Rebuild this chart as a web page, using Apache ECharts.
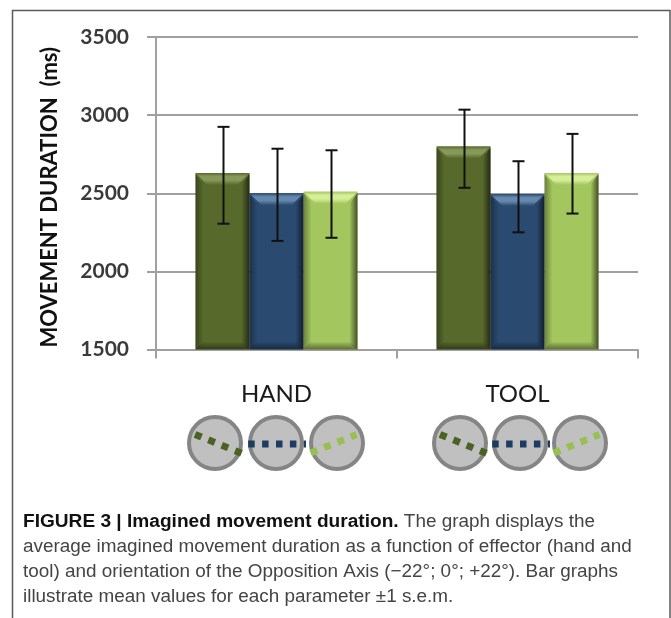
<!DOCTYPE html>
<html>
<head>
<meta charset="utf-8">
<style>
  html, body { margin: 0; padding: 0; background: #fff; }
  #chart { width: 671px; height: 618px; }
</style>
<script src="https://cdn.jsdelivr.net/npm/echarts@6/dist/echarts.min.js"></script>
</head>
<body>
<div id="chart"></div>
<script>
const categories = ['HAND', 'TOOL'];
const tickLabels = [1500, 2000, 2500, 3000, 3500];
const seriesNames = ['-22', '0', '+22'];
const means = [
    [2630, 2500, 2510],
    [2800, 2495, 2630]
];
const errHigh = [
    [2925, 2785, 2775],
    [3035, 2705, 2880]
];
const errLow = [
    [2305, 2195, 2215],
    [2535, 2250, 2370]
];
const barColors = ['#58692c', '#2b4a6f', '#a3c65f'];
const bevelLight = ['#86995a', '#6788ae', '#d6ee98'];
const captionLines = [
    'average imagined movement duration as a function of effector (hand and',
    'tool) and orientation of the Opposition Axis (\u221222\u00b0; 0\u00b0; +22\u00b0). Bar graphs',
    'illustrate mean values for each parameter \u00b11 s.e.m.'
];

const chart = echarts.init(document.getElementById('chart'));
const barWidth = 54;
const Grad = echarts.graphic.LinearGradient;

// bevelled bar shading, drawn on top of the plain bar series
const bevel = (s) => (params, api) => {
    const cat = api.value(0);
    const x0 = api.coord([cat, 1500])[0] + (s - 1) * barWidth - barWidth / 2;
    const yTop = api.coord([cat, api.value(1)])[1];
    const yBase = api.coord([cat, 1500])[1];
    const x1 = x0 + barWidth, d = 12, side = 8;
    const poly = (points, fill) => ({ type: 'polygon', shape: { points }, style: { fill } });
    const fade = (x, y, x2, y2, alpha) => new Grad(x, y, x2, y2, [
        { offset: 0, color: 'rgba(0,0,0,' + alpha + ')' },
        { offset: 1, color: 'rgba(0,0,0,0)' }
    ]);
    const topFill = new Grad(0, 0, 0, 1, [
        { offset: 0, color: barColors[s] },
        { offset: 0.3, color: bevelLight[s] },
        { offset: 0.6, color: bevelLight[s] },
        { offset: 1, color: barColors[s] }
    ]);
    return {
        type: 'group',
        children: [
            poly([[x0, yTop + 1], [x0 + side, yTop + d], [x0 + side, yBase - 6], [x0, yBase]], fade(0, 0, 1, 0, 0.35)),
            poly([[x1, yTop + 1], [x1 - side, yTop + d], [x1 - side, yBase - 6], [x1, yBase]], fade(1, 0, 0, 0, 0.6)),
            poly([[x0, yBase], [x0 + side, yBase - 8], [x1 - side, yBase - 8], [x1, yBase]], fade(0, 1, 0, 0, 0.45)),
            poly([[x0, yTop], [x1, yTop], [x1 - d, yTop + d], [x0 + d, yTop + d]], topFill)
        ]
    };
};

const errorBar = (s) => (params, api) => {
    const cat = api.value(0);
    const x = api.coord([cat, 1500])[0] + (s - 1) * barWidth + 1;
    const hi = api.coord([cat, api.value(1)])[1];
    const lo = api.coord([cat, api.value(2)])[1];
    const style = { stroke: '#111', lineWidth: 2 };
    const line = (x1, y1, x2, y2) => ({ type: 'line', shape: { x1, y1, x2, y2 }, style });
    return {
        type: 'group',
        children: [line(x, hi, x, lo), line(x - 6, hi, x + 6, hi), line(x - 6, lo, x + 6, lo)]
    };
};

const series = [];
seriesNames.forEach((name, s) => {
    series.push({
        name,
        type: 'bar',
        data: means.map(m => m[s]),
        barWidth,
        barGap: 0,
        itemStyle: { color: barColors[s] }
    });
});
seriesNames.forEach((name, s) => {
    series.push({
        type: 'custom',
        renderItem: bevel(s),
        encode: { x: 0, y: 1 },
        data: means.map((m, c) => [c, m[s]]),
        z: 3
    });
    series.push({
        type: 'custom',
        renderItem: errorBar(s),
        encode: { x: 0, y: [1, 2] },
        data: means.map((m, c) => [c, errHigh[c][s], errLow[c][s]]),
        z: 4
    });
});

// orientation icons under each group
const iconLines = [
    { dx: [-20, 26.5], dy: [-8.6, 10.3], dash: [7, 7.4], color: '#4a6224' },
    { dx: [-27.8, 30], dy: [1, 1], dash: [6.5, 7.4], color: '#1c3c63' },
    { dx: [-26.2, 19.5], dy: [10, -8.6], dash: [7, 7.4], color: '#98c050' }
];
const iconGraphics = [];
[[215, 276, 337], [460, 520, 580]].forEach((centers) => {
    centers.forEach((cx) => {
        iconGraphics.push({
            type: 'circle',
            shape: { cx, cy: 443, r: 26 },
            style: { fill: '#c0c0c0', stroke: '#858585', lineWidth: 4 }
        });
    });
    centers.forEach((cx, i) => {
        const cy = 443, l = iconLines[i];
        iconGraphics.push({
            type: 'line',
            z: 5,
            shape: { x1: cx + l.dx[0], y1: cy + l.dy[0], x2: cx + l.dx[1], y2: cy + l.dy[1] },
            style: { stroke: l.color, lineWidth: 7, lineDash: l.dash }
        });
    });
});

const captionFont = '"Liberation Sans", sans-serif';

chart.setOption({
    animation: false,
    grid: { left: 156, top: 37, width: 482, height: 312.5 },
    xAxis: {
        type: 'category',
        data: categories,
        axisLine: { lineStyle: { color: '#a0a0a0', width: 2 } },
        axisTick: { show: true, length: 9, lineStyle: { color: '#a0a0a0', width: 2 } },
        axisLabel: { margin: 33, fontSize: 24, color: '#1a1a1a', fontFamily: 'Lato' }
    },
    yAxis: {
        type: 'value',
        min: 1500,
        max: 3500,
        interval: 500,
        axisLine: { show: true, lineStyle: { color: '#a0a0a0', width: 2 } },
        axisTick: { show: true, length: 9, lineStyle: { color: '#a0a0a0', width: 2 } },
        axisLabel: {
            margin: 27,
            fontSize: 21,
            fontWeight: 'bold',
            color: '#3a3a3a',
            fontFamily: 'Lato',
            formatter: (v) => tickLabels.includes(v) ? String(v) : ''
        },
        splitLine: { show: true, lineStyle: { color: '#a0a0a0', width: 2 } },
        name: 'MOVEMENT DURATION  (ms)',
        nameLocation: 'middle',
        nameGap: 95,
        nameRotate: 90,
        nameTextStyle: { fontSize: 22, fontWeight: 'bold', color: '#111', fontFamily: 'Lato', padding: [0, 8, 0, 0] }
    },
    series,
    graphic: [
        {
            type: 'rect',
            shape: { x: 12.5, y: 10.5, width: 657.5, height: 640 },
            style: { fill: 'none', stroke: '#5a5a5a', lineWidth: 1.5 }
        },
        ...iconGraphics,
        {
            type: 'text',
            x: 23,
            y: 512,
            style: {
                text: '{b|FIGURE 3 | Imagined movement duration.} The graph displays the',
                font: '18.9px ' + captionFont,
                fill: '#444',
                rich: { b: { font: 'bold 19.1px ' + captionFont, fill: '#111' } }
            }
        },
        ...captionLines.map((text, i) => ({
            type: 'text',
            x: 23,
            y: 537 + i * 25,
            style: { text, font: '18.9px ' + captionFont, fill: '#444' }
        }))
    ]
});
</script>
</body>
</html>
